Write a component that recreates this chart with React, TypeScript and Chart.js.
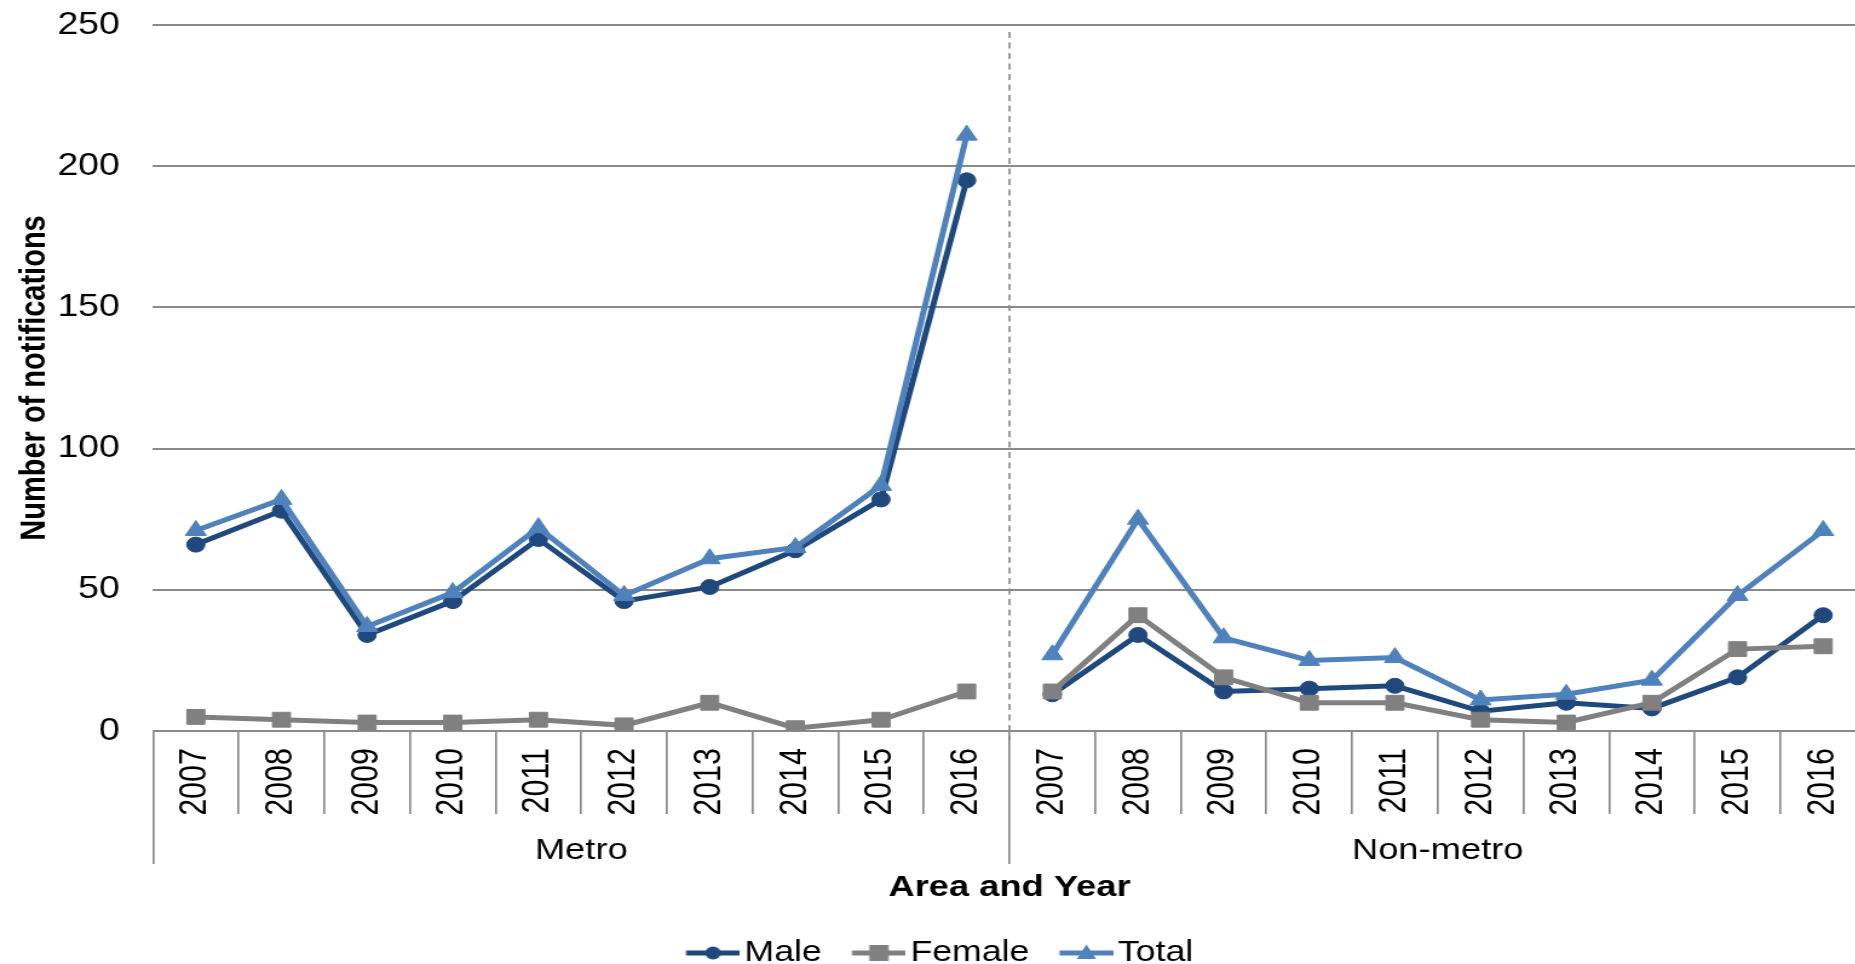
import React, { useEffect, useRef } from 'react';
import { Chart, registerables } from 'chart.js';

Chart.register(...registerables);

// ---- data ----
const years = ['2007', '2008', '2009', '2010', '2011', '2012', '2013', '2014', '2015', '2016'];
const areas = ['Metro', 'Non-metro'];
const metroMale = [66, 78, 34, 46, 68, 46, 51, 64, 82, 195];
const nonMetroMale = [13, 34, 14, 15, 16, 7, 10, 8, 19, 41];
const metroFemale = [5, 4, 3, 3, 4, 2, 10, 1, 4, 14];
const nonMetroFemale = [14, 41, 19, 10, 10, 4, 3, 10, 29, 30];
const metroTotal = [71, 82, 37, 49, 72, 48, 61, 65, 87, 211];
const nonMetroTotal = [27, 75, 33, 25, 26, 11, 13, 18, 48, 71];
const yTicks = [0, 50, 100, 150, 200, 250];
const seriesNames = ['Male', 'Female', 'Total'];

// ---- style ----
const FONT = 'Arial, "Liberation Sans", sans-serif';
const MALE = '#1F497D';
const FEMALE = '#808080';
const TOTAL = '#4F81BD';
const GRID = '#8A8A8A';

// the canvas is rendered narrower and stretched horizontally, as the reference is
const CANVAS_W = 1545;
const CANVAS_H = 964;
const CSS_W = 1870;

const ICON_W = 56;
const LINE_LEN = 44.6;

function makeIcon(color: string, shape: string): HTMLCanvasElement {
  const c = document.createElement('canvas');
  c.width = ICON_W;
  c.height = 26;
  const g = c.getContext('2d')!;
  const x0 = ICON_W - LINE_LEN;
  const cx = x0 + LINE_LEN / 2;
  const cy = 13;
  g.strokeStyle = color;
  g.lineWidth = 5;
  g.beginPath();
  g.moveTo(x0, cy);
  g.lineTo(ICON_W, cy);
  g.stroke();
  g.fillStyle = color;
  if (shape === 'circle') {
    g.beginPath();
    g.arc(cx, cy, 6.5, 0, Math.PI * 2);
    g.fill();
  } else if (shape === 'rect') {
    g.fillRect(cx - 8, cy - 8, 16, 16);
  } else {
    g.beginPath();
    g.moveTo(cx, cy - 8.5);
    g.lineTo(cx + 8, cy + 6);
    g.lineTo(cx - 8, cy + 6);
    g.closePath();
    g.fill();
  }
  return c;
}

const dividerPlugin = {
  id: 'divider',
  beforeDatasetsDraw(chart: any) {
    const x = chart.scales.x;
    const { ctx, chartArea } = chart;
    const px = (x.getPixelForValue(years.length - 1) + x.getPixelForValue(years.length)) / 2;
    ctx.save();
    ctx.strokeStyle = GRID;
    ctx.lineWidth = 1.7;
    ctx.setLineDash([6, 4.5]);
    ctx.beginPath();
    ctx.moveTo(px, chartArea.top + 7);
    ctx.lineTo(px, chartArea.bottom + 9);
    ctx.stroke();
    ctx.restore();
  },
};

export default function App() {
  const ref = useRef<HTMLCanvasElement>(null);

  useEffect(() => {
    const icons = [makeIcon(MALE, 'circle'), makeIcon(FEMALE, 'rect'), makeIcon(TOTAL, 'triangle')];
    const labels = areas.flatMap(() => years);
    const gap = (c: any) => (c.p0DataIndex === years.length - 1 ? 'rgba(0,0,0,0)' : undefined);
    const zeroPad = (s: any) => {
      s.paddingTop = 0;
      s.paddingBottom = 0;
      s.paddingLeft = 0;
      s.paddingRight = 0;
    };

    const chart = new Chart(ref.current!, {
      type: 'line',
      data: {
        labels,
        datasets: [
          {
            label: seriesNames[0],
            data: [...metroMale, ...nonMetroMale],
            borderColor: MALE,
            backgroundColor: MALE,
            pointBackgroundColor: MALE,
            pointBorderColor: MALE,
            pointStyle: 'circle',
            pointRadius: 7.5,
            pointBorderWidth: 1,
            borderWidth: 5,
            order: 3,
            segment: { borderColor: gap },
          },
          {
            label: seriesNames[1],
            data: [...metroFemale, ...nonMetroFemale],
            borderColor: FEMALE,
            backgroundColor: FEMALE,
            pointBackgroundColor: FEMALE,
            pointBorderColor: FEMALE,
            pointStyle: 'rect',
            pointRadius: 10.5,
            pointBorderWidth: 1,
            borderWidth: 5,
            order: 2,
            segment: { borderColor: gap },
          },
          {
            label: seriesNames[2],
            data: [...metroTotal, ...nonMetroTotal],
            borderColor: TOTAL,
            backgroundColor: TOTAL,
            pointBackgroundColor: TOTAL,
            pointBorderColor: TOTAL,
            pointStyle: 'triangle',
            pointRadius: 10,
            pointBorderWidth: 1,
            borderWidth: 5,
            order: 1,
            segment: { borderColor: gap },
          },
        ],
      },
      options: {
        responsive: false,
        devicePixelRatio: 1,
        animation: false,
        events: [],
        layout: { autoPadding: false, padding: { left: 10.7, right: 3.3, top: 25, bottom: -13.75 } },
        plugins: {
          tooltip: { enabled: false },
          legend: {
            position: 'bottom',
            labels: {
              usePointStyle: true,
              pointStyleWidth: 33.85,
              padding: 24.5,
              color: '#000',
              font: { family: FONT, size: 29.5 },
              generateLabels: (ch: any) =>
                ch.data.datasets.map((ds: any, i: number) => ({
                  text: ds.label,
                  pointStyle: icons[i],
                  fillStyle: ds.borderColor,
                  strokeStyle: ds.borderColor,
                  lineWidth: 0,
                  hidden: false,
                  datasetIndex: i,
                  fontColor: '#000',
                })),
            },
          },
        },
        scales: {
          x: {
            type: 'category',
            position: 'bottom',
            offset: true,
            weight: 0,
            grid: {
              offset: true,
              drawOnChartArea: false,
              drawTicks: true,
              tickLength: 83,
              color: GRID,
              lineWidth: 1.7,
            },
            border: { display: false },
            ticks: {
              autoSkip: false,
              minRotation: 90,
              maxRotation: 90,
              padding: -66,
              color: '#000',
              font: { family: FONT, size: 30.5 },
            },
            afterFit: (s: any) => {
              s.height = 83;
              zeroPad(s);
            },
          },
          x2: {
            type: 'category',
            labels: areas,
            position: 'bottom',
            offset: true,
            weight: 1,
            grid: {
              offset: true,
              drawOnChartArea: false,
              drawTicks: true,
              tickLength: 50,
              color: GRID,
              lineWidth: 1.7,
            },
            border: { display: false },
            ticks: {
              autoSkip: false,
              minRotation: 0,
              maxRotation: 0,
              padding: -31.5,
              color: '#000',
              font: { family: FONT, size: 30 },
            },
            title: {
              display: true,
              text: 'Area and Year',
              color: '#000',
              font: { family: FONT, size: 30, weight: 'bold' },
              padding: { top: 0, bottom: 7.95 },
            },
            afterFit: (s: any) => {
              s.height = 99.75;
              zeroPad(s);
            },
          },
          y: {
            min: yTicks[0],
            max: yTicks[yTicks.length - 1],
            afterBuildTicks: (s: any) => {
              s.ticks = yTicks.map((v) => ({ value: v }));
            },
            grid: { color: GRID, lineWidth: 2, drawTicks: false },
            border: { display: false },
            ticks: {
              padding: 27.3,
              color: '#000',
              font: { family: FONT, size: 31 },
            },
            title: {
              display: true,
              text: 'Number of notifications',
              color: '#000',
              font: { family: FONT, size: 29, weight: 'bold' },
              padding: { top: 0.7, bottom: 0 },
            },
            afterFit: (s: any) => {
              s.width = 115.7;
              zeroPad(s);
            },
          },
        },
      },
      plugins: [dividerPlugin],
    } as any);

    return () => chart.destroy();
  }, []);

  return (
    <div
      style={{
        position: 'fixed',
        left: 0,
        top: 0,
        width: 1855,
        height: 964,
        overflow: 'hidden',
        background: '#fff',
      }}
    >
      <canvas
        ref={ref}
        width={CANVAS_W}
        height={CANVAS_H}
        style={{ width: `${CSS_W}px`, height: `${CANVAS_H}px`, display: 'block' }}
      />
    </div>
  );
}
